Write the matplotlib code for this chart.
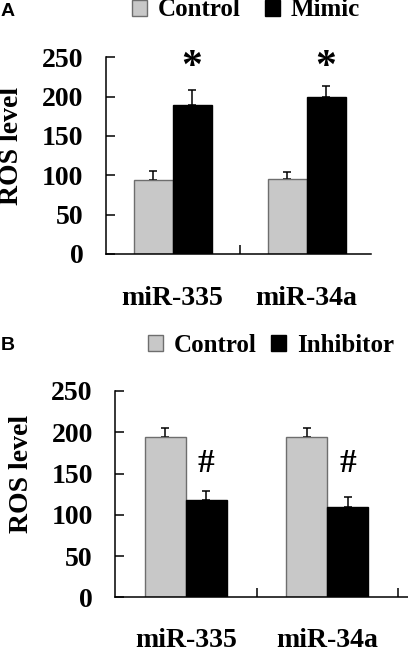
import numpy as np
import matplotlib
matplotlib.use("Agg")
import matplotlib.pyplot as plt

plt.rcParams['font.family'] = ['Liberation Serif', 'DejaVu Serif']
plt.rcParams['font.weight'] = 'bold'

groups = ["miR-335", "miR-34a"]

# panel A
a_labels = ["Control", "Mimic"]
a_control = [94, 95]
a_control_err = [11, 9]
a_mimic = [189, 200]
a_mimic_err = [19, 14]
a_mark = "*"
a_mark_y = [236, 236]

# panel B
b_labels = ["Control", "Inhibitor"]
b_control = [194, 194]
b_control_err = [11, 11]
b_inhib = [118, 109]
b_inhib_err = [11, 12]
b_mark = "#"
b_mark_y = [162, 162]

yticks = [0, 50, 100, 150, 200, 250]

W, H = 408, 653
fig = plt.figure(figsize=(W / 100, H / 100), dpi=100)

gray = "#c8c8c8"
edge = "#6e6e6e"
bw = 0.29


def panel(rect, xmax, ctrl, ctrl_err, trt, trt_err, labels, mark, mark_y, msize, boundaries, lab_y):
    ax = fig.add_axes(rect)
    x = np.arange(len(groups)) + 0.5
    b1 = ax.bar(x - bw / 2, ctrl, bw, color=gray, edgecolor=edge, linewidth=1.0, zorder=2)
    b2 = ax.bar(x + bw / 2, trt, bw, color="black", edgecolor="black", linewidth=1.0, zorder=2)
    ax.errorbar(x - bw / 2, ctrl, yerr=[np.zeros(len(ctrl)), ctrl_err], fmt="none",
                ecolor="black", elinewidth=1.1, capsize=3, capthick=1.1, zorder=1)
    ax.errorbar(x + bw / 2, trt, yerr=[np.zeros(len(trt)), trt_err], fmt="none",
                ecolor="black", elinewidth=1.1, capsize=3, capthick=1.1, zorder=1)
    for xi, yi in zip(x + bw / 2, mark_y):
        ax.text(xi, yi, mark, ha="center", va="center", fontsize=msize, fontweight="bold")
    ax.set_xlim(0, xmax)
    ax.set_ylim(0, 250)
    ax.set_yticks(yticks)
    ax.set_yticklabels([str(t) for t in yticks], fontsize=20, fontweight="bold")
    ax.tick_params(axis="y", direction="in", length=6.5, width=1.1, pad=16)
    ax.set_xticks(boundaries)
    ax.set_xticklabels([])
    ax.tick_params(axis="x", direction="in", length=6.5, width=1.1)
    for xi, g in zip(x, groups):
        ax.text(xi, lab_y, g, ha="center", va="center", fontsize=20, fontweight="bold",
                transform=ax.get_xaxis_transform(), clip_on=False)
    ax.set_ylabel("ROS level", fontsize=20, fontweight="bold")
    for s in ["top", "right"]:
        ax.spines[s].set_visible(False)
    for s in ["left", "bottom"]:
        ax.spines[s].set_linewidth(1.1)
    return ax, b1, b2


axA, a1, a2 = panel([105.7 / W, 1 - 254 / H, 265 / W, 196.7 / H], 1.978,
                    a_control, a_control_err, a_mimic, a_mimic_err, a_labels,
                    a_mark, a_mark_y, 30, [1], -0.225)
axA.legend([a1, a2], a_labels, ncol=2, frameon=False, fontsize=18,
           loc="center", bbox_to_anchor=(246 / W, 1 - 10 / H), bbox_transform=fig.transFigure,
           handlelength=0.6, handleheight=0.6, handletextpad=0.45, columnspacing=0.95)
axA.yaxis.set_label_coords(-0.31, 0.55)

axB, bb1, bb2 = panel([115 / W, 1 - 597.3 / H, 300 / W, 206.3 / H], 2.12,
                      b_control, b_control_err, b_inhib, b_inhib_err, b_labels,
                      b_mark, b_mark_y, 24, [1, 2], -0.21)
axB.legend([bb1, bb2], b_labels, ncol=2, frameon=False, fontsize=18,
           loc="center", bbox_to_anchor=(271 / W, 1 - 345 / H), bbox_transform=fig.transFigure,
           handlelength=0.6, handleheight=0.6, handletextpad=0.45, columnspacing=0.55)
axB.yaxis.set_label_coords(-0.27, 0.6)

fig.text(1 / W, 1 - 11 / H, "A", fontsize=14, fontweight="bold", family="Liberation Sans",
         va="center", ha="left")
fig.text(1 / W, 1 - 346 / H, "B", fontsize=14, fontweight="bold", family="Liberation Sans",
         va="center", ha="left")

fig.savefig("out.png", dpi=100)
